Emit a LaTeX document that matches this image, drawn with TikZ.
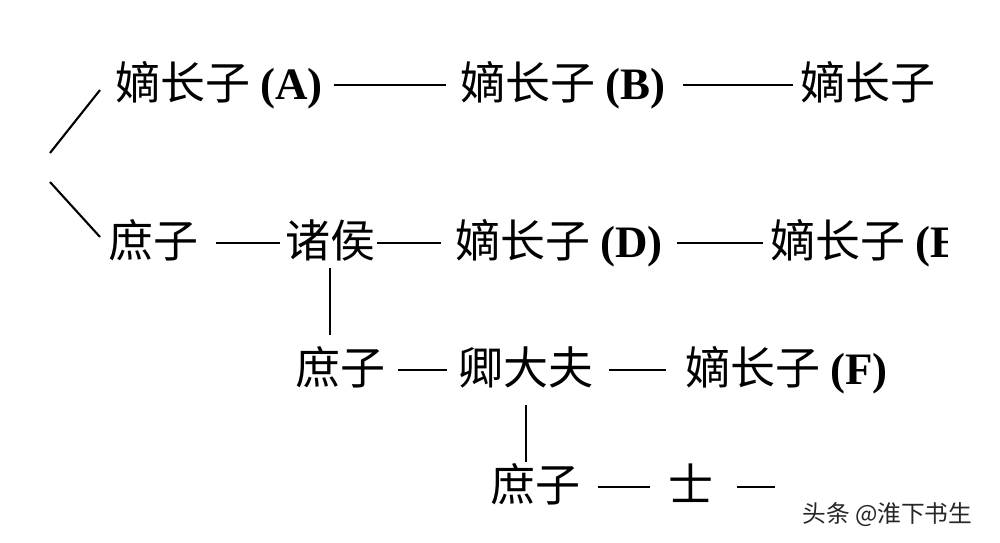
\documentclass[tikz,border=0pt]{standalone}
\usepackage{fontspec}
\setmainfont{Liberation Serif}
\newfontfamily\cjk{Noto Sans CJK SC}
\usetikzlibrary{positioning}

\tikzset{
  rank/.style={anchor=west, inner sep=0pt, font=\fontsize{25.6}{30}\selectfont\cjk,
    text height=22pt, text depth=6pt},
  link/.style={line width=1.2pt, black},
}
\newcommand{\lat}[1]{{\fontsize{25.6}{30}\selectfont\rmfamily\bfseries #1}}

\begin{document}
\begin{tikzpicture}[x=0.02cm, y=-0.02cm]
\useasboundingbox (0,0) rectangle (1000,542);
\begin{scope}
\clip (0,0) rectangle (947,542);
% первая строка
\node[rank] (zA) at (115,85) {嫡长子 \lat{(A)}};
\node[rank] (zB) at (460,85) {嫡长子 \lat{(B)}};
\node[rank] (zC) at (800,85) {嫡长子};
% вторая строка
\node[rank] (shu1) at (108,243) {庶子};
\node[rank] (zhuhou) at (285,243) {诸侯};
\node[rank] (zD) at (455,243) {嫡长子 \lat{(D)}};
\node[rank] (zE) at (770,243) {嫡长子 \lat{(E)}};
\end{scope}
% третья строка
\node[rank] (shu2) at (295,370) {庶子};
\node[rank] (qing) at (458,370) {卿大夫};
\node[rank] (zF) at (685,370) {嫡长子 \lat{(F)}};
% четвертая строка
\node[rank] (shu3) at (490,487) {庶子};
\node[rank] (shi) at (668,487) {士};
\coordinate (tail) at (775,487);
\coordinate (rootA) at (50,153);
\coordinate (rootB) at (50,182);

\draw[link] ([xshift=6pt]zA.east) -- ([xshift=-8pt]zB.west);
\draw[link] ([xshift=10pt]zB.east) -- ([xshift=-4pt]zC.west);
\draw[link] ([xshift=10pt]shu1.east) -- ([xshift=-3pt]zhuhou.west);
\draw[link] ([xshift=1pt]zhuhou.east) -- ([xshift=-8pt]zD.west);
\draw[link] ([xshift=8pt]zD.east) -- ([xshift=-4pt]zE.west);
\draw[link] ([xshift=7pt]shu2.east) -- ([xshift=-6pt]qing.west);
\draw[link] ([xshift=9pt]qing.east) -- ([xshift=-11pt]zF.west);
\draw[link] ([xshift=10pt]shu3.east) -- ([xshift=-10pt]shi.west);
\draw[link] ([xshift=13pt]shi.east) -- (tail);
% ветви
\draw[link] ([xshift=-0.3cm,yshift=-0.1cm]zA.west) -- (rootA);
\draw[link] (rootB) -- ([xshift=-0.16cm,yshift=0.12cm]shu1.west);
\draw[link, shorten >=0.2cm] (zhuhou.south) -- (zhuhou.south |- shu2.north);
\draw[link, shorten <=0.2cm] (qing.south) -- (qing.south |- shu3.north);

\node[inner sep=0pt, anchor=west, font=\fontsize{13.5}{16}\selectfont\cjk, text=black!85]
  (mark) at (802,515) {头条 @淮下书生};
\end{tikzpicture}
\end{document}
